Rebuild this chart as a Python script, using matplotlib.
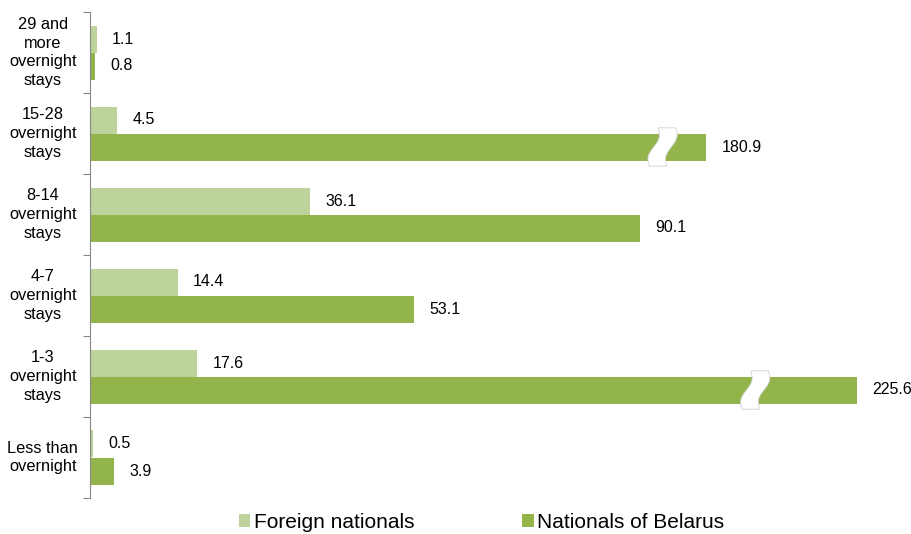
import numpy as np
import matplotlib.pyplot as plt
from matplotlib.patches import Polygon

plt.rcParams['font.family'] = ['Liberation Sans', 'DejaVu Sans']

# categories, top to bottom
categories = ['29 and\nmore\novernight\nstays', '15-28\novernight\nstays',
              '8-14\novernight\nstays', '4-7\novernight\nstays',
              '1-3\novernight\nstays', 'Less than\novernight']
foreign = [1.1, 4.5, 36.1, 14.4, 17.6, 0.5]
nationals = [0.8, 180.9, 90.1, 53.1, 225.6, 3.9]
# the two long bars are cut short with a break mark
nationals_drawn = [0.8, 101.0, 90.1, 53.1, 125.7, 3.9]
break_at = [None, 93.8, None, None, 109.0, None]

light = '#BDD39B'
dark = '#92B44B'

fig = plt.figure(figsize=(9.11, 5.34), dpi=100)
ax = fig.add_axes([90 / 911, 36 / 534, 815 / 911, 486 / 534])

y = np.arange(len(categories))
h = 1 / 3
ax.barh(y - h / 2, foreign, height=h, color=light, label='Foreign nationals')
ax.barh(y + h / 2, nationals_drawn, height=h, color=dark, label='Nationals of Belarus')

# value labels
for i in range(len(categories)):
    ax.text(foreign[i] + 2.5, y[i] - h / 2, f'{foreign[i]:.1f}', va='center', ha='left', fontsize=11.5)
    ax.text(nationals_drawn[i] + 2.5, y[i] + h / 2, f'{nationals[i]:.1f}', va='center', ha='left', fontsize=11.5)

# break marks
t = np.linspace(0, 1, 50)
for i, bx in enumerate(break_at):
    if bx is None:
        continue
    yc = y[i] + h / 2
    top, bot = yc - h / 2 - 0.07, yc + h / 2 + 0.07
    yy = top + t * (bot - top)
    xl = bx - 1.4 + 1.4 * (0.5 - t) + 0.55 * np.sin(2 * np.pi * t)
    xr = xl + 2.9
    pts = np.vstack([np.column_stack([xl, yy]), np.column_stack([xr[::-1], yy[::-1]])])
    ax.add_patch(Polygon(pts, closed=True, facecolor='white', edgecolor='#D0D0D0', lw=0.6, zorder=3))

ax.set_xlim(0, 133.6)
ax.set_ylim(len(categories) - 0.5, -0.5)

for s in ['top', 'right', 'bottom']:
    ax.spines[s].set_visible(False)
ax.spines['left'].set_color('#888888')
ax.set_xticks([])
ax.set_yticks(np.arange(-0.5, len(categories), 1.0))
ax.set_yticklabels([])
ax.tick_params(axis='y', length=5, color='#888888', direction='out')

for i, c in enumerate(categories):
    ax.text(-0.058, y[i], c, transform=ax.get_yaxis_transform(), ha='center', va='center',
            fontsize=11.8, linespacing=1.32)

fig.legend(loc='center', bbox_to_anchor=(0.5286, 0.022), ncol=2, frameon=False, fontsize=15,
           handlelength=0.55, handleheight=0.55, handletextpad=0.15, columnspacing=5.2, borderpad=0)

fig.savefig('out.png', dpi=100)
